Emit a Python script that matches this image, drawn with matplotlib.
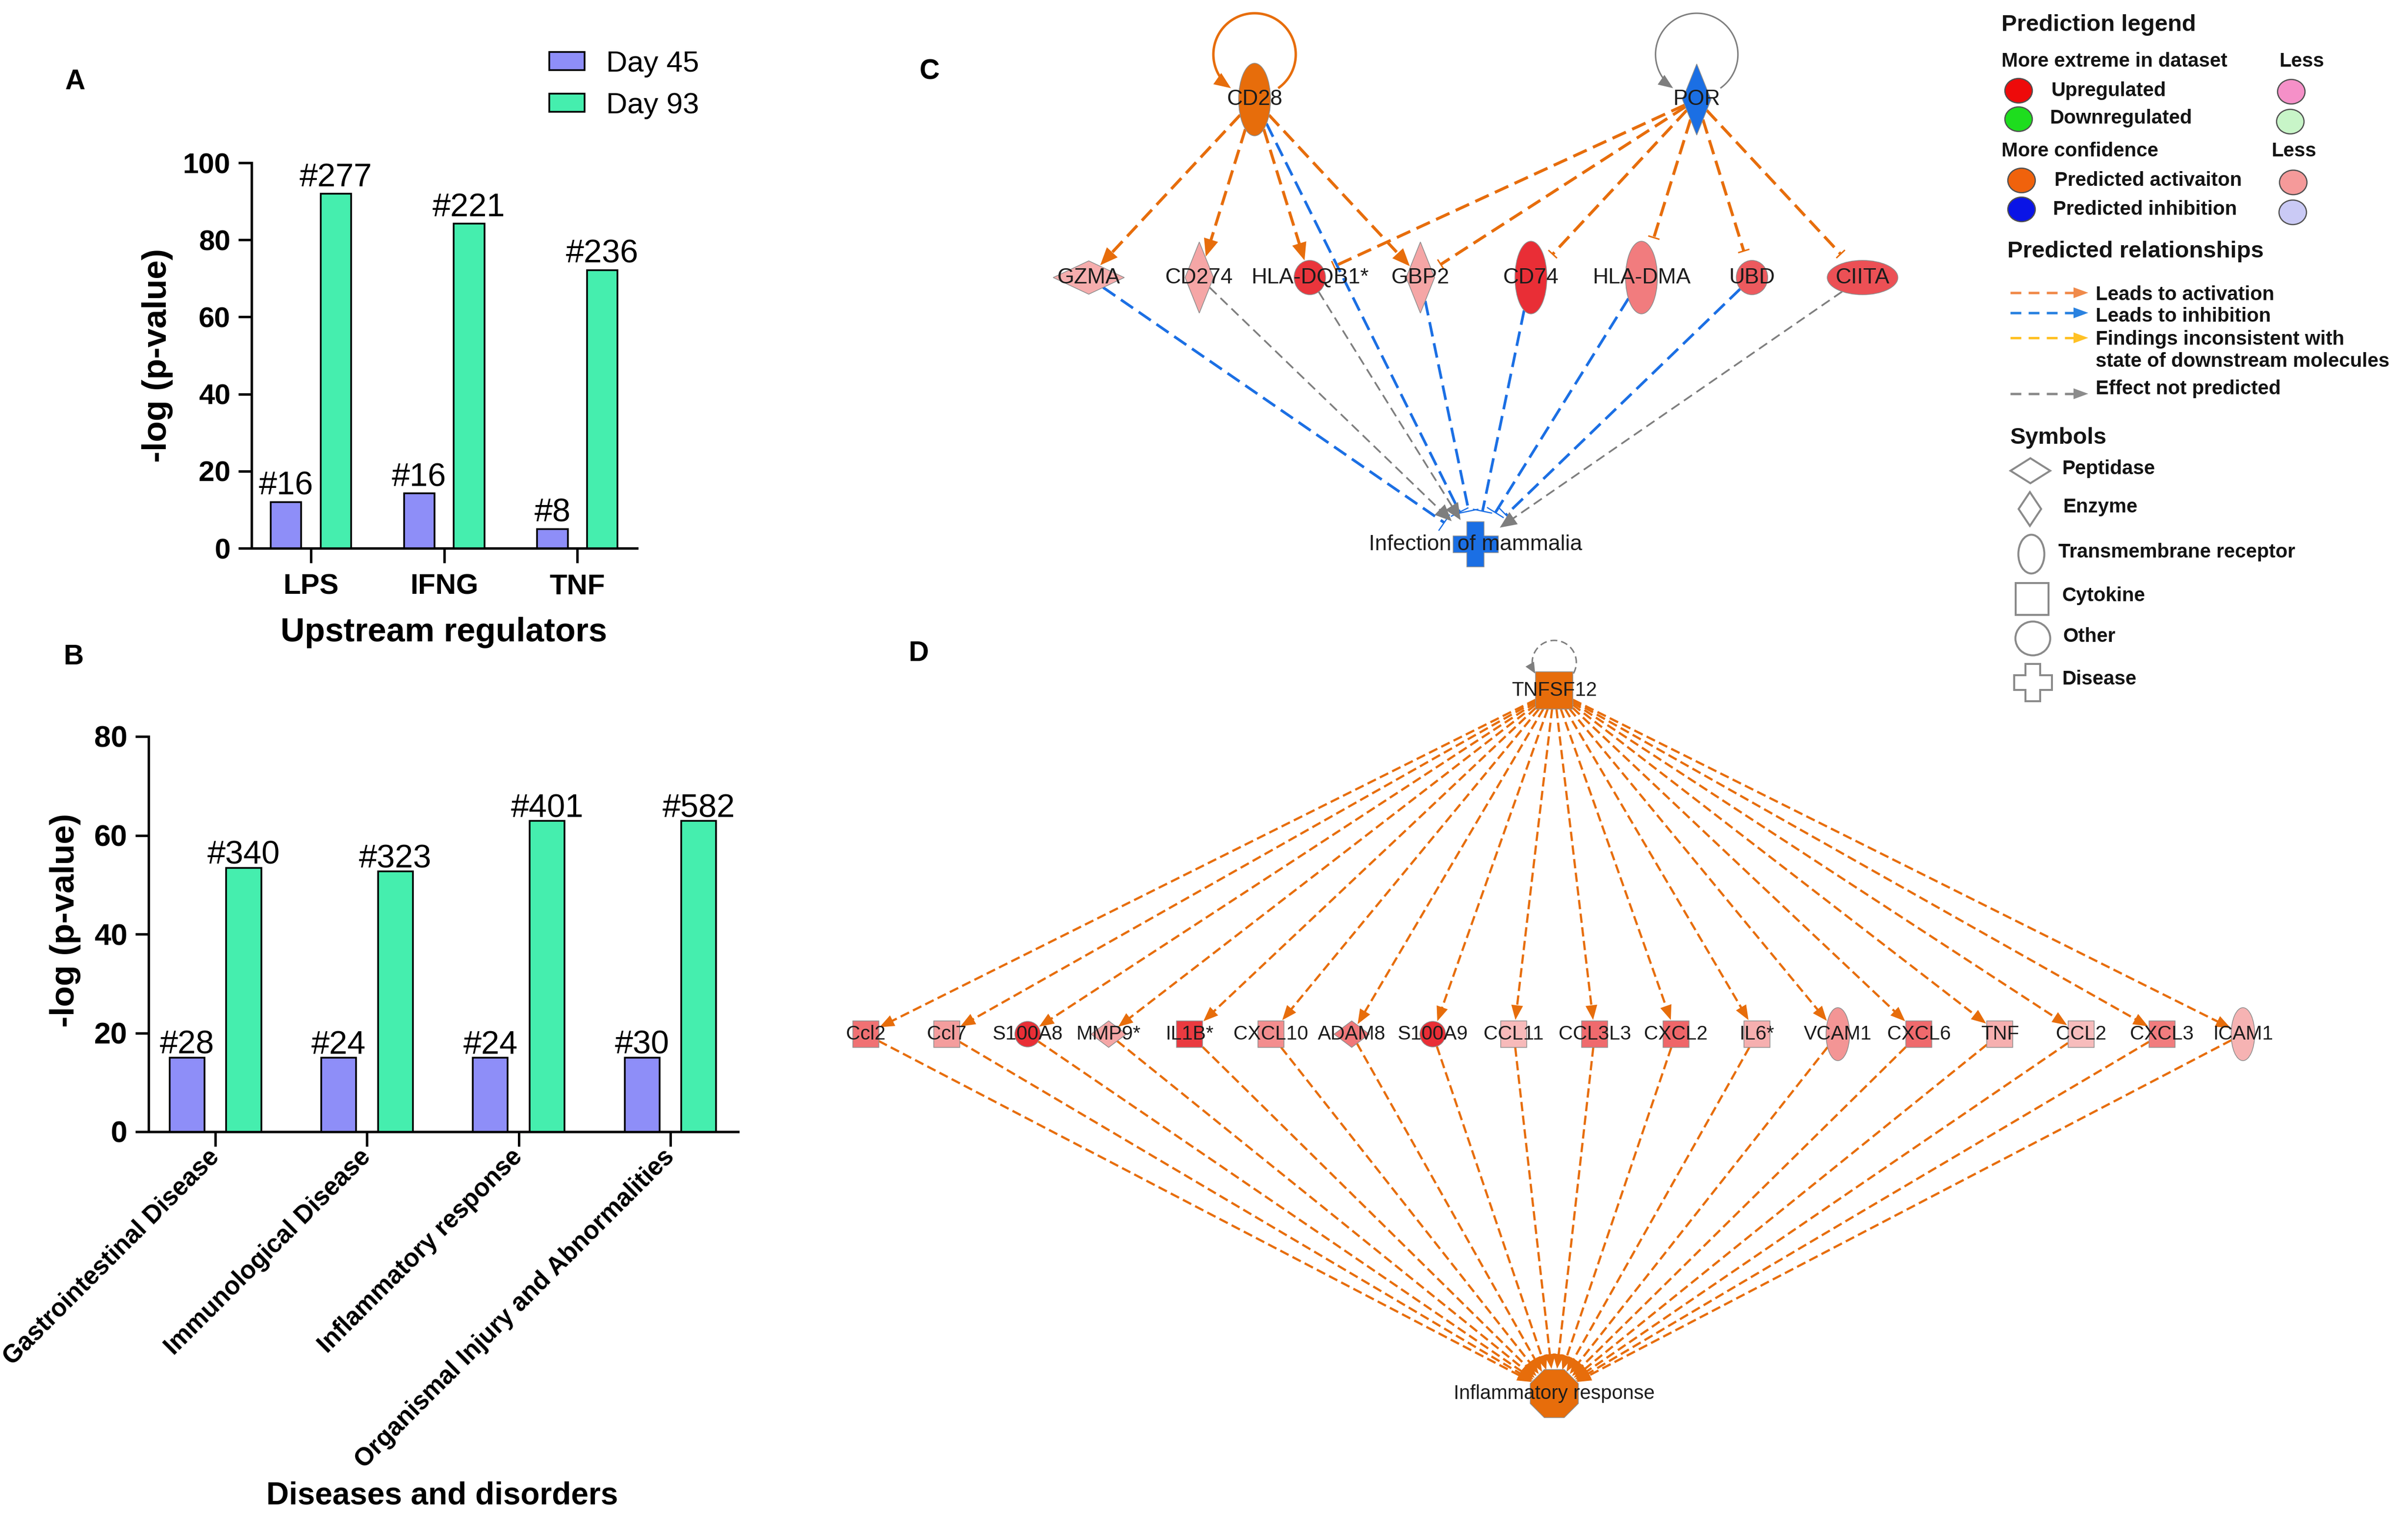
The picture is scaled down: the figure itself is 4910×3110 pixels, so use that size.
import numpy as np
import matplotlib
matplotlib.use("Agg")
import matplotlib.pyplot as plt
from matplotlib.patches import Ellipse, Polygon, Rectangle, RegularPolygon
from matplotlib.colors import LinearSegmentedColormap

plt.rcParams['font.family'] = ['Liberation Sans', 'DejaVu Sans']

# ---------------------------------------------------------------- data
series_names = ["Day 45", "Day 93"]

a_categories = ["LPS", "IFNG", "TNF"]
a_day45 = [12.0, 14.2, 5.0]
a_day93 = [92.0, 84.2, 72.2]
a_day45_counts = ["#16", "#16", "#8"]
a_day93_counts = ["#277", "#221", "#236"]
a_yticks = [0, 20, 40, 60, 80, 100]
a_xlabel = "Upstream regulators"

b_categories = ["Gastrointestinal Disease", "Immunological Disease",
                "Inflammatory response", "Organismal Injury and Abnormalities"]
b_day45 = [15.0, 15.0, 15.0, 15.0]
b_day93 = [53.4, 52.7, 62.9, 62.9]
b_day45_counts = ["#28", "#24", "#24", "#30"]
b_day93_counts = ["#340", "#323", "#401", "#582"]
b_yticks = [0, 20, 40, 60, 80]
b_xlabel = "Diseases and disorders"
ylabel = "-log (p-value)"

# network C
c_regulators = ["CD28", "POR"]
c_regulator_types = ["transmembrane receptor", "enzyme"]
c_regulator_states = ["activated", "inhibited"]
c_targets = ["GZMA", "CD274", "HLA-DQB1*", "GBP2", "CD74", "HLA-DMA", "UBD", "CIITA"]
c_target_types = ["peptidase", "enzyme", "other", "enzyme", "transmembrane receptor",
                  "transmembrane receptor", "other", "transcription regulator"]
c_target_expr = [0.30, 0.35, 0.92, 0.35, 0.95, 0.60, 0.75, 0.80]
c_outcome = "Infection of mammalia"
c_outcome_state = "inhibited"
c_edges = [
    ("CD28", "CD28", "activation", "arrow"),
    ("POR", "POR", "not predicted", "arrow"),
    ("CD28", "GZMA", "activation", "arrow"),
    ("CD28", "CD274", "activation", "arrow"),
    ("CD28", "HLA-DQB1*", "activation", "arrow"),
    ("CD28", "GBP2", "activation", "arrow"),
    ("CD28", "Infection of mammalia", "inhibition", "tbar"),
    ("POR", "HLA-DQB1*", "activation", "tbar"),
    ("POR", "GBP2", "activation", "tbar"),
    ("POR", "CD74", "activation", "tbar"),
    ("POR", "HLA-DMA", "activation", "tbar"),
    ("POR", "UBD", "activation", "tbar"),
    ("POR", "CIITA", "activation", "tbar"),
    ("GZMA", "Infection of mammalia", "inhibition", "tbar"),
    ("CD274", "Infection of mammalia", "not predicted", "arrow"),
    ("HLA-DQB1*", "Infection of mammalia", "not predicted", "arrow"),
    ("GBP2", "Infection of mammalia", "inhibition", "tbar"),
    ("CD74", "Infection of mammalia", "inhibition", "tbar"),
    ("HLA-DMA", "Infection of mammalia", "inhibition", "tbar"),
    ("UBD", "Infection of mammalia", "inhibition", "tbar"),
    ("CIITA", "Infection of mammalia", "not predicted", "arrow"),
]

# network D
d_regulator = "TNFSF12"
d_regulator_state = "activated"
d_targets = ["Ccl2", "Ccl7", "S100A8", "MMP9*", "IL1B*", "CXCL10", "ADAM8", "S100A9", "CCL11",
             "CCL3L3", "CXCL2", "IL6*", "VCAM1", "CXCL6", "TNF", "CCL2", "CXCL3", "ICAM1"]
d_target_types = ["cytokine", "cytokine", "other", "peptidase", "cytokine", "cytokine", "peptidase",
                  "other", "cytokine", "cytokine", "cytokine", "cytokine", "transmembrane receptor",
                  "cytokine", "cytokine", "cytokine", "cytokine", "transmembrane receptor"]
d_target_expr = [0.65, 0.42, 0.95, 0.35, 0.90, 0.52, 0.62, 0.95, 0.20, 0.68, 0.70, 0.28,
                 0.48, 0.68, 0.28, 0.18, 0.60, 0.25]
d_outcome = "Inflammatory response"
d_outcome_state = "activated"

# ---------------------------------------------------------------- figure
DPI = 100
W, H = 4910, 3110
PT = 72.0 / DPI
fig = plt.figure(figsize=(W / DPI, H / DPI), dpi=DPI)
fig.patch.set_facecolor("white")


def fx(x):
    return x / W


def fy(y):
    return 1 - y / H


COL45 = "#8E8EF8"
COL93 = "#45EEAE"


def bar_panel(rect_px, cats, v45, v93, c45, c93, yticks, tickfs, annfs, gap_px, rotated):
    l, t, r, b = rect_px
    ax = fig.add_axes([fx(l), fy(b), (r - l) / W, (b - t) / H])
    x = np.arange(len(cats))
    off, bw = 0.187, 0.23
    b1 = ax.bar(x - off, v45, bw, color=COL45, edgecolor="black", linewidth=3.5 * PT,
                label=series_names[0], zorder=3)
    b2 = ax.bar(x + off, v93, bw, color=COL93, edgecolor="black", linewidth=3.5 * PT,
                label=series_names[1], zorder=3)
    for bars, labels in ((b1, c45), (b2, c93)):
        for rect, s in zip(bars, labels):
            ax.annotate(s, (rect.get_x() + rect.get_width() / 2, rect.get_height()),
                        xytext=(0, gap_px * PT), textcoords="offset points",
                        ha="center", va="baseline", fontsize=annfs, color="black")
    ax.set_ylim(yticks[0], yticks[-1])
    ax.set_yticks(yticks)
    ax.set_xticks(x)
    n = len(cats)
    return ax, b1, b2, x, n


# Panel A
axA, a1, a2, xa, na = bar_panel((513, 332, 1299, 1118), a_categories, a_day45, a_day93,
                                a_day45_counts, a_day93_counts, a_yticks, 42, 48, 15, False)
axA.set_xlim(-0.4457, 2.449)
axA.set_xticklabels(a_categories, fontweight="bold", fontsize=42)
# Panel B
axB, bb1, bb2, xb, nb = bar_panel((303, 1502, 1505, 2308), b_categories, b_day45, b_day93,
                                  b_day45_counts, b_day93_counts, b_yticks, 44, 48, 8, True)
axB.set_xlim(-0.44, 3.446)
axB.set_xticklabels(b_categories, fontweight="bold", fontsize=37, rotation=45,
                    ha="right", va="center", rotation_mode="anchor")

for ax, fs in ((axA, 42), (axB, 44)):
    for s in ("top", "right"):
        ax.spines[s].set_visible(False)
    for s in ("left", "bottom"):
        ax.spines[s].set_linewidth(5 * PT)
    ax.tick_params(axis="both", width=5 * PT, length=27 * PT, direction="out")
    ax.tick_params(axis="y", pad=16 * PT, labelsize=fs)
    ax.tick_params(axis="x", length=30 * PT)
    for lab in ax.get_yticklabels():
        lab.set_fontweight("bold")
    ax.patch.set_alpha(0)
axA.tick_params(axis="x", pad=22 * PT)
axB.tick_params(axis="x", pad=14 * PT)

axA.legend(handles=[a1, a2], labels=series_names, loc="upper left",
           bbox_to_anchor=(fx(1120), fy(103)), bbox_transform=fig.transFigure,
           frameon=False, fontsize=43, handlelength=1.2, handleheight=0.58,
           handletextpad=0.75, labelspacing=0.5, borderpad=0, borderaxespad=0)

fig.text(fx(321), fy(725), ylabel, rotation=90, ha="center", va="center",
         fontsize=50, fontweight="bold")
fig.text(fx(133), fy(1877), ylabel, rotation=90, ha="center", va="center",
         fontsize=50, fontweight="bold")
fig.text(fx(905), fy(1290), a_xlabel, ha="center", va="center", fontsize=49, fontweight="bold")
fig.text(fx(902), fy(3050), b_xlabel, ha="center", va="center", fontsize=46, fontweight="bold")

for lab, (px, py) in zip("ABCD", [(153, 167), (150, 1340), (1895, 147), (1873, 1333)]):
    fig.text(fx(px), fy(py), lab, ha="center", va="center", fontsize=41, fontweight="bold")

# ---------------------------------------------------------------- network helpers
net = fig.add_axes([0, 0, 1, 1])
net.set_xlim(0, W)
net.set_ylim(H, 0)
net.axis("off")
net.patch.set_alpha(0)

ORANGE = "#E76D0B"
BLUE = "#1B6FE4"
GRAY = "#7E7E7E"
STATE_COL = {"activated": ORANGE, "inhibited": BLUE}
expr_cmap = LinearSegmentedColormap.from_list("expr", ["#FAD4D4", "#F39292", "#E8242C"])


def unit(dx, dy):
    n = np.hypot(dx, dy)
    return dx / n, dy / n


def boundary(node, ux, uy):
    hw, hh = node["w"] / 2, node["h"] / 2
    sh = node["shape"]
    if sh in ("ellipse", "octagon"):
        t = 1 / np.sqrt((ux / hw) ** 2 + (uy / hh) ** 2)
    elif sh == "diamond":
        t = 1 / (abs(ux) / hw + abs(uy) / hh)
    else:
        t = 1 / max(abs(ux) / hw, abs(uy) / hh)
    return node["x"] + t * ux, node["y"] + t * uy


def arrowhead(ax, tip, ux, uy, L, Wd, color, z=4):
    bx, by = tip[0] - ux * L, tip[1] - uy * L
    px, py = -uy, ux
    ax.add_patch(Polygon([tip, (bx + px * Wd / 2, by + py * Wd / 2),
                          (bx - px * Wd / 2, by - py * Wd / 2)], closed=True,
                         facecolor=color, edgecolor="none", zorder=z))


def line(ax, xs, ys, color, lw_px, on=None, off=None, z=1):
    ls = "-" if on is None else (0, (on / lw_px, off / lw_px))
    ax.plot(xs, ys, color=color, lw=lw_px * PT, linestyle=ls, dash_capstyle="butt",
            solid_capstyle="butt", zorder=z)


def draw_edge(ax, n0, n1, st, head):
    ux, uy = unit(n1["x"] - n0["x"], n1["y"] - n0["y"])
    s = boundary(n0, ux, uy)
    e = boundary(n1, -ux, -uy)
    if head == "arrow":
        tip = (e[0] - ux * st["gap_a"], e[1] - uy * st["gap_a"])
        L = st["head_len"]
        end = (tip[0] - ux * L * 0.6, tip[1] - uy * L * 0.6)
        line(ax, [s[0], end[0]], [s[1], end[1]], st["color"], st["lw"], st["on"], st["off"])
        arrowhead(ax, tip, ux, uy, L, st["head_w"], st["color"])
    else:
        tip = (e[0] - ux * st["gap_t"], e[1] - uy * st["gap_t"])
        line(ax, [s[0], tip[0]], [s[1], tip[1]], st["color"], st["lw"], st["on"], st["off"])
        px, py = -uy, ux
        hw = st["bar_w"] / 2
        line(ax, [tip[0] - px * hw, tip[0] + px * hw], [tip[1] - py * hw, tip[1] + py * hw],
             st["color"], st["bar_lw"], z=4)


def draw_loop(ax, node, color, lw_px, r, dy, t0, t1, on=None, off=None, L=26, Wd=22):
    cx, cy = node["x"], node["y"] - dy
    t = np.radians(np.linspace(t0, t1 - 360, 240))
    xs, ys = cx + r * np.cos(t), cy + r * np.sin(t)
    line(ax, xs[:-12], ys[:-12], color, lw_px, on, off)
    ux, uy = unit(np.sin(t[-1]), -np.cos(t[-1]))
    arrowhead(ax, (xs[-1], ys[-1]), ux, uy, L, Wd, color)


def draw_node(ax, node, label, fs, edge="#8C8C8C", elw=1.5):
    x, y, w, h, sh, fc = node["x"], node["y"], node["w"], node["h"], node["shape"], node["face"]
    if sh == "ellipse":
        p = Ellipse((x, y), w, h)
    elif sh == "diamond":
        p = Polygon([(x, y - h / 2), (x + w / 2, y), (x, y + h / 2), (x - w / 2, y)], closed=True)
    elif sh == "square":
        p = Rectangle((x - w / 2, y - h / 2), w, h)
    elif sh == "octagon":
        p = RegularPolygon((x, y), 8, radius=w / 2 / np.cos(np.pi / 8), orientation=np.pi / 8)
    else:  # cross
        a = w * 0.19
        p = Polygon([(x - a, y - h / 2), (x + a, y - h / 2), (x + a, y - a), (x + w / 2, y - a),
                     (x + w / 2, y + a), (x + a, y + a), (x + a, y + h / 2), (x - a, y + h / 2),
                     (x - a, y + a), (x - w / 2, y + a), (x - w / 2, y - a), (x - a, y - a)],
                    closed=True)
    p.set_facecolor(fc)
    p.set_edgecolor(edge)
    p.set_linewidth(elw * PT)
    p.set_zorder(5)
    ax.add_patch(p)
    if label is not None:
        ax.text(x, y, label, ha="center", va="center", fontsize=fs, color="#1C1C1C", zorder=6)


# ---------------------------------------------------------------- panel C
C_SIZE = {"peptidase": ("diamond", 145, 68), "enzyme": ("diamond", 58, 145),
          "transmembrane receptor": ("ellipse", 65, 148), "other": ("ellipse", 64, 70),
          "transcription regulator": ("ellipse", 144, 70), "disease": ("cross", 92, 92)}
C_X0, C_DX = 2220, 225.4
C_ROWY = {"reg": 203, "target": 566, "outcome": 1110}
C_REG_COLS = [1.5, 5.5]
C_OUT_COL = 3.5

cn = {}
for name, typ, state, col in zip(c_regulators, c_regulator_types, c_regulator_states, C_REG_COLS):
    sh, w, h = C_SIZE[typ]
    cn[name] = dict(x=C_X0 + col * C_DX, y=C_ROWY["reg"], shape=sh, w=w, h=h, face=STATE_COL[state])
for i, (name, typ, ex) in enumerate(zip(c_targets, c_target_types, c_target_expr)):
    sh, w, h = C_SIZE[typ]
    cn[name] = dict(x=C_X0 + i * C_DX, y=C_ROWY["target"], shape=sh, w=w, h=h, face=expr_cmap(ex))
sh, w, h = C_SIZE["disease"]
cn[c_outcome] = dict(x=C_X0 + C_OUT_COL * C_DX, y=C_ROWY["outcome"], shape=sh, w=w, h=h,
                     face=STATE_COL[c_outcome_state])

C_STYLE = {
    "activation": dict(color=ORANGE, lw=6, on=30, off=14, gap_a=2, gap_t=22, head_len=36,
                       head_w=30, bar_w=24, bar_lw=3),
    "inhibition": dict(color=BLUE, lw=5.5, on=30, off=14, gap_a=2, gap_t=22, head_len=30,
                       head_w=26, bar_w=40, bar_lw=2.5),
    "not predicted": dict(color=GRAY, lw=3.5, on=20, off=11, gap_a=4, gap_t=20, head_len=34,
                          head_w=30, bar_w=24, bar_lw=2.5),
}

for s, t, pred, head in c_edges:
    if s == t:
        if pred == "activation":
            draw_loop(net, cn[s], ORANGE, 5, 84, 92, 55, 125, L=34, Wd=28)
        else:
            draw_loop(net, cn[s], GRAY, 3, 84, 92, 55, 125, L=30, Wd=24)
        continue
    draw_edge(net, cn[s], cn[t], C_STYLE[pred], head)

for name in c_regulators + c_targets:
    draw_node(net, cn[name], name, 32)
draw_node(net, cn[c_outcome], c_outcome, 32)

# ---------------------------------------------------------------- panel D
D_SIZE = {"cytokine": ("square", 53, 54), "other": ("ellipse", 52, 52),
          "peptidase": ("diamond", 72, 54), "transmembrane receptor": ("ellipse", 48, 108),
          "regulator": ("square", 76, 76), "function": ("octagon", 98, 98)}
D_X0, D_DX = 1765, 165.2
D_ROWY = {"reg": 1408, "target": 2109, "outcome": 2842}
D_CENTER_COL = 8.5

dn = {}
sh, w, h = D_SIZE["regulator"]
dn[d_regulator] = dict(x=D_X0 + D_CENTER_COL * D_DX, y=D_ROWY["reg"], shape=sh, w=w, h=h,
                       face=STATE_COL[d_regulator_state])
for i, (name, typ, ex) in enumerate(zip(d_targets, d_target_types, d_target_expr)):
    sh, w, h = D_SIZE[typ]
    dn[name] = dict(x=D_X0 + i * D_DX, y=D_ROWY["target"], shape=sh, w=w, h=h, face=expr_cmap(ex))
sh, w, h = D_SIZE["function"]
dn[d_outcome] = dict(x=D_X0 + D_CENTER_COL * D_DX, y=D_ROWY["outcome"], shape=sh, w=w, h=h,
                     face=STATE_COL[d_outcome_state])

D_STYLE = dict(color=ORANGE, lw=4.5, on=19, off=9, gap_a=2, gap_t=10, head_len=30, head_w=24,
               bar_w=20, bar_lw=3)
for name in d_targets:
    draw_edge(net, dn[d_regulator], dn[name], D_STYLE, "arrow")
    draw_edge(net, dn[name], dn[d_outcome], D_STYLE, "arrow")
draw_loop(net, dn[d_regulator], GRAY, 3, 45, 57, 30, 150, on=14, off=8, L=22, Wd=20)

draw_node(net, dn[d_regulator], d_regulator, 29)
for name in d_targets:
    draw_node(net, dn[name], name, 29)
draw_node(net, dn[d_outcome], d_outcome, 29)

# ---------------------------------------------------------------- legend (panel C)
LFS, HFS = 29, 34
TXT = "#141414"


def ltext(x, y, s, fs=LFS):
    net.text(x, y, s, ha="left", va="center", fontsize=fs, fontweight="bold", color=TXT, zorder=6)


def lcircle(x, y, fc):
    net.add_patch(Ellipse((x, y), 56, 50, facecolor=fc, edgecolor="#505050", lw=2.5 * PT, zorder=5))


ltext(4081, 51, "Prediction legend", HFS)
ltext(4081, 125, "More extreme in dataset")
ltext(4647, 125, "Less")
lcircle(4116, 185, "#EE0A0A"); ltext(4183, 185, "Upregulated"); lcircle(4672, 187, "#F590C8")
lcircle(4116, 243, "#1EDD1E"); ltext(4179, 241, "Downregulated"); lcircle(4670, 248, "#C8F5C8")
ltext(4081, 308, "More confidence")
ltext(4631, 308, "Less")
lcircle(4122, 368, "#F0620C"); ltext(4189, 368, "Predicted activaiton"); lcircle(4676, 372, "#F59A9A")
lcircle(4122, 427, "#0A14E6"); ltext(4186, 427, "Predicted inhibition"); lcircle(4675, 433, "#CACAF5")

ltext(4093, 513, "Predicted relationships", HFS)
leg_lines = [("#F08A4A", 597, "Leads to activation", 601),
             ("#2A82E0", 638, "Leads to inhibition", 645),
             ("#FFC125", 689, "Findings inconsistent with", 692),
             ("#8C8C8C", 803, "Effect not predicted", 793)]
for col, yy, lab, ty in leg_lines:
    line(net, [4099, 4232], [yy, yy], col, 5, 22, 15, z=4)
    arrowhead(net, (4258, yy), 1, 0, 30, 22, col)
    ltext(4273, ty, lab)
ltext(4273, 737, "state of downstream molecules")

ltext(4099, 893, "Symbols", HFS)
SYM_EDGE = "#8A8A8A"
sym = [("diamond", 4140, 960, 81, 51, "Peptidase", 4204, 956),
       ("diamond", 4139, 1038, 46, 69, "Enzyme", 4206, 1034),
       ("ellipse", 4142, 1130, 53, 79, "Transmembrane receptor", 4197, 1126),
       ("square", 4143, 1221, 67, 65, "Cytokine", 4204, 1215),
       ("ellipse", 4145, 1302, 71, 69, "Other", 4206, 1298),
       ("cross", 4145, 1392, 77, 76, "Disease", 4204, 1385)]
for shp, x, y, w, h, lab, tx, ty in sym:
    draw_node(net, dict(x=x, y=y, w=w, h=h, shape=shp, face="white"), None, 10,
              edge=SYM_EDGE, elw=4)
    ltext(tx, ty, lab)

fig.savefig("out.png", dpi=DPI, facecolor="white")
